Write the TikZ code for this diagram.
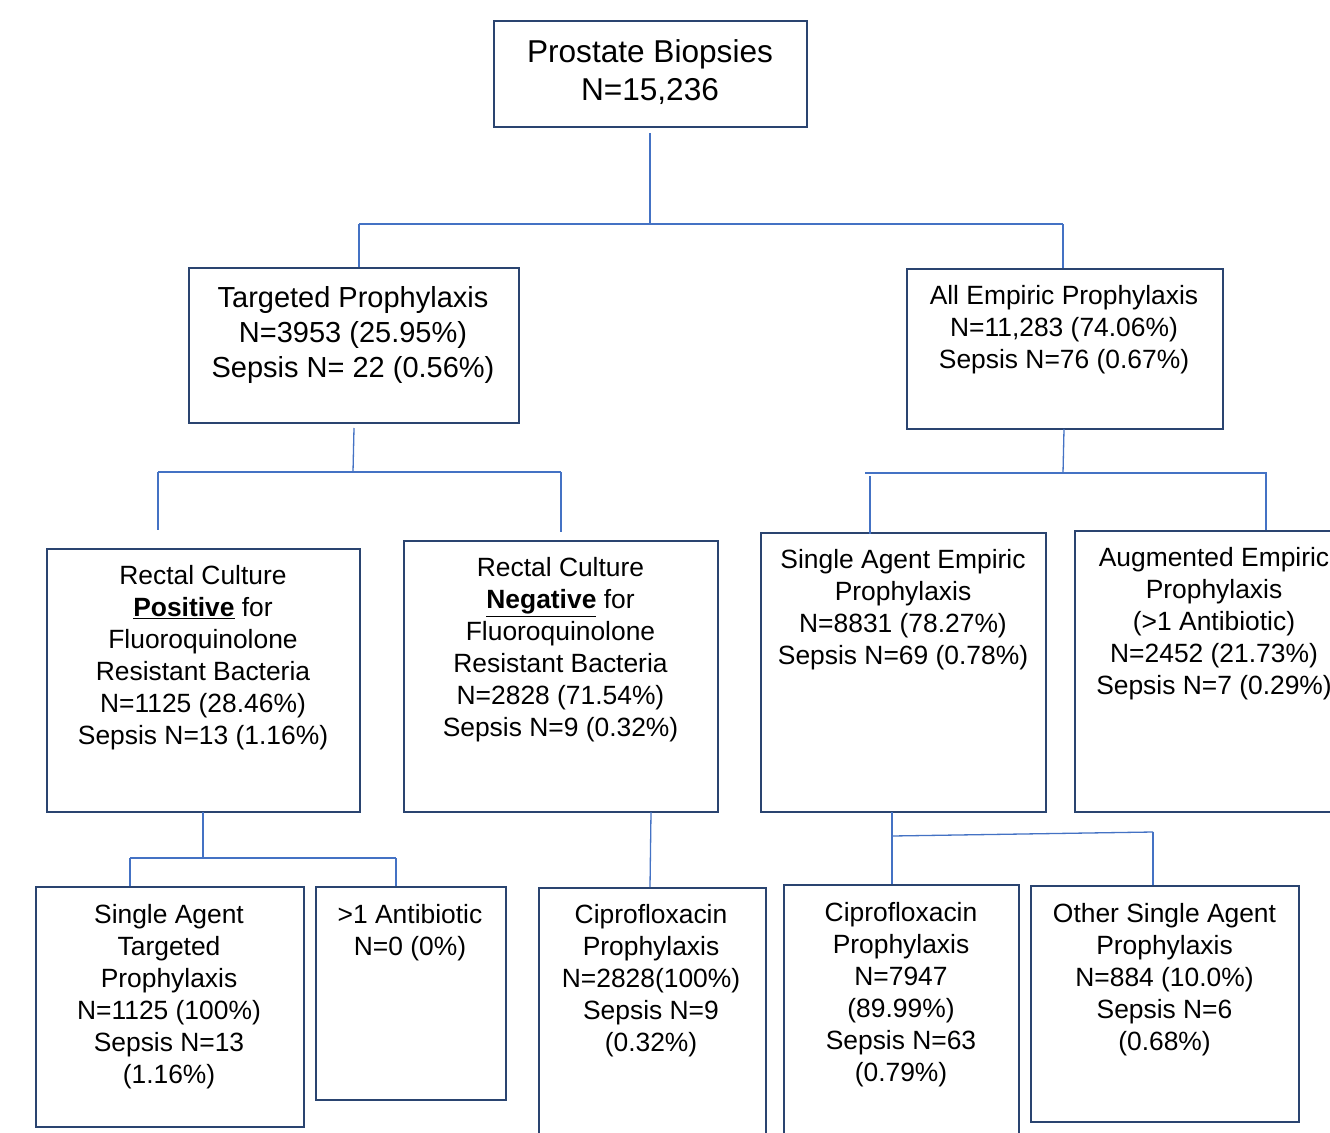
\documentclass[tikz,border=0pt]{standalone}
\usepackage{fontspec}
\setmainfont{Liberation Sans}
\definecolor{boxc}{HTML}{2A4470}
\definecolor{connc}{HTML}{4472C4}
\tikzset{
  box/.style={draw=boxc, line width=1.8pt, anchor=north west, inner sep=0pt, fill=none},
  txt/.style={align=center, inner sep=0pt, anchor=north, text=black, font=\fontsize{26.4}{32}\selectfont},
  conn/.style={draw=connc, line width=1.3pt},
}
\begin{document}
\begin{tikzpicture}[x=1pt,y=-1pt]
\clip (0,0) rectangle (1330,1132);
\fill[white] (0,0) rectangle (1330,1132);
% boxes
\node[box, minimum width=313, minimum height=106] (b1) at (493,20) {};
\node[box, minimum width=330, minimum height=155] (b2) at (188,267) {};
\node[box, minimum width=316, minimum height=160] (b3) at (906,268) {};
\node[box, minimum width=313, minimum height=263] (b4) at (46,548) {};
\node[box, minimum width=314, minimum height=271] (b5) at (403,540) {};
\node[box, minimum width=285, minimum height=279] (b6) at (760,532) {};
\node[box, minimum width=280, minimum height=281] (b7) at (1074,530) {};
\node[box, minimum width=268, minimum height=240] (b8) at (35,886) {};
\node[box, minimum width=190, minimum height=213] (b9) at (315,886) {};
\node[box, minimum width=227, minimum height=260] (b10) at (538,887) {};
\node[box, minimum width=235, minimum height=262] (b11) at (783,884) {};
\node[box, minimum width=268, minimum height=236] (b12) at (1030,885) {};
% texts
\node[txt, font=\fontsize{31.6}{38}\selectfont] (t1) at (650,39) {Prostate Biopsies\\N=15,236};
\node[txt, font=\fontsize{29}{35}\selectfont] (t2) at (353,286.5) {Targeted Prophylaxis\\N=3953 (25.95\%)\\Sepsis N= 22 (0.56\%)};
\node[txt] (t3) at (1064,285.5) {All Empiric Prophylaxis\\N=11,283 (74.06\%)\\Sepsis N=76 (0.67\%)};
\node[txt] (t4) at (203,565.5) {Rectal Culture\\\underline{\textbf{Positive}} for\\Fluoroquinolone\\Resistant Bacteria\\N=1125 (28.46\%)\\Sepsis N=13 (1.16\%)};
\node[txt] (t5) at (560.5,557.5) {Rectal Culture\\\underline{\textbf{Negative}} for\\Fluoroquinolone\\Resistant Bacteria\\N=2828 (71.54\%)\\Sepsis N=9 (0.32\%)};
\node[txt] (t6) at (903,549.5) {Single Agent Empiric\\Prophylaxis\\N=8831 (78.27\%)\\Sepsis N=69 (0.78\%)};
\node[txt] (t7) at (1214,547.5) {Augmented Empiric\\Prophylaxis\\(>1 Antibiotic)\\N=2452 (21.73\%)\\Sepsis N=7 (0.29\%)};
\node[txt] (t8) at (169,904.5) {Single Agent\\Targeted\\Prophylaxis\\N=1125 (100\%)\\Sepsis N=13\\(1.16\%)};
\node[txt] (t9) at (410,904.5) {>1 Antibiotic\\N=0 (0\%)};
\node[txt] (t10) at (651,904.5) {Ciprofloxacin\\Prophylaxis\\N=2828(100\%)\\Sepsis N=9\\(0.32\%)};
\node[txt] (t11) at (901,902.5) {Ciprofloxacin\\Prophylaxis\\N=7947\\(89.99\%)\\Sepsis N=63\\(0.79\%)};
\node[txt] (t12) at (1164.5,903.5) {Other Single Agent\\Prophylaxis\\N=884 (10.0\%)\\Sepsis N=6\\(0.68\%)};
% connector points
\coordinate (a0) at (650,133);
\coordinate (a1) at (650,224);
\coordinate (aL) at (359,224);
\coordinate (aR) at (1063,224);
\coordinate (aLe) at (359,267);
\coordinate (aRe) at (1063,268);
\coordinate (b0) at (354,428);
\coordinate (b1j) at (353,472);
\coordinate (bL) at (158,472);
\coordinate (bR) at (561,472);
\coordinate (bLe) at (158,530);
\coordinate (bRe) at (561,532);
\coordinate (c0) at (1064,429);
\coordinate (c1j) at (1063,473);
\coordinate (cL) at (865,473);
\coordinate (cR) at (1267,473);
\coordinate (cLs) at (870,476);
\coordinate (cLe) at (870,534);
\coordinate (cRs) at (1266,473);
\coordinate (cRe) at (1266,530);
\coordinate (d0) at (203,812);
\coordinate (d1j) at (203,858);
\coordinate (dL) at (130,858);
\coordinate (dR) at (396,858);
\coordinate (dLe) at (130,886);
\coordinate (dRe) at (396,886);
\coordinate (e0) at (651,812);
\coordinate (e1) at (650,887);
\coordinate (f0) at (892,812);
\coordinate (f1) at (892,884);
\coordinate (fJ) at (892,836);
\coordinate (fR) at (1153,832);
\coordinate (fRe) at (1153,885);
% connectors
\draw[conn] (a0) -- (a1);
\draw[conn] (aL) -- (aR);
\draw[conn] (aL) -- (aLe);
\draw[conn] (aR) -- (aRe);
\draw[conn] (b0) -- (b1j);
\draw[conn] (bL) -- (bR);
\draw[conn] (bL) -- (bLe);
\draw[conn] (bR) -- (bRe);
\draw[conn] (c0) -- (c1j);
\draw[conn] (cL) -- (cR);
\draw[conn] (cLs) -- (cLe);
\draw[conn] (cRs) -- (cRe);
\draw[conn] (d0) -- (d1j);
\draw[conn] (dL) -- (dR);
\draw[conn] (dL) -- (dLe);
\draw[conn] (dR) -- (dRe);
\draw[conn] (e0) -- (e1);
\draw[conn] (f0) -- (f1);
\draw[conn] (fJ) -- (fR);
\draw[conn] (fR) -- (fRe);
\end{tikzpicture}
\end{document}
